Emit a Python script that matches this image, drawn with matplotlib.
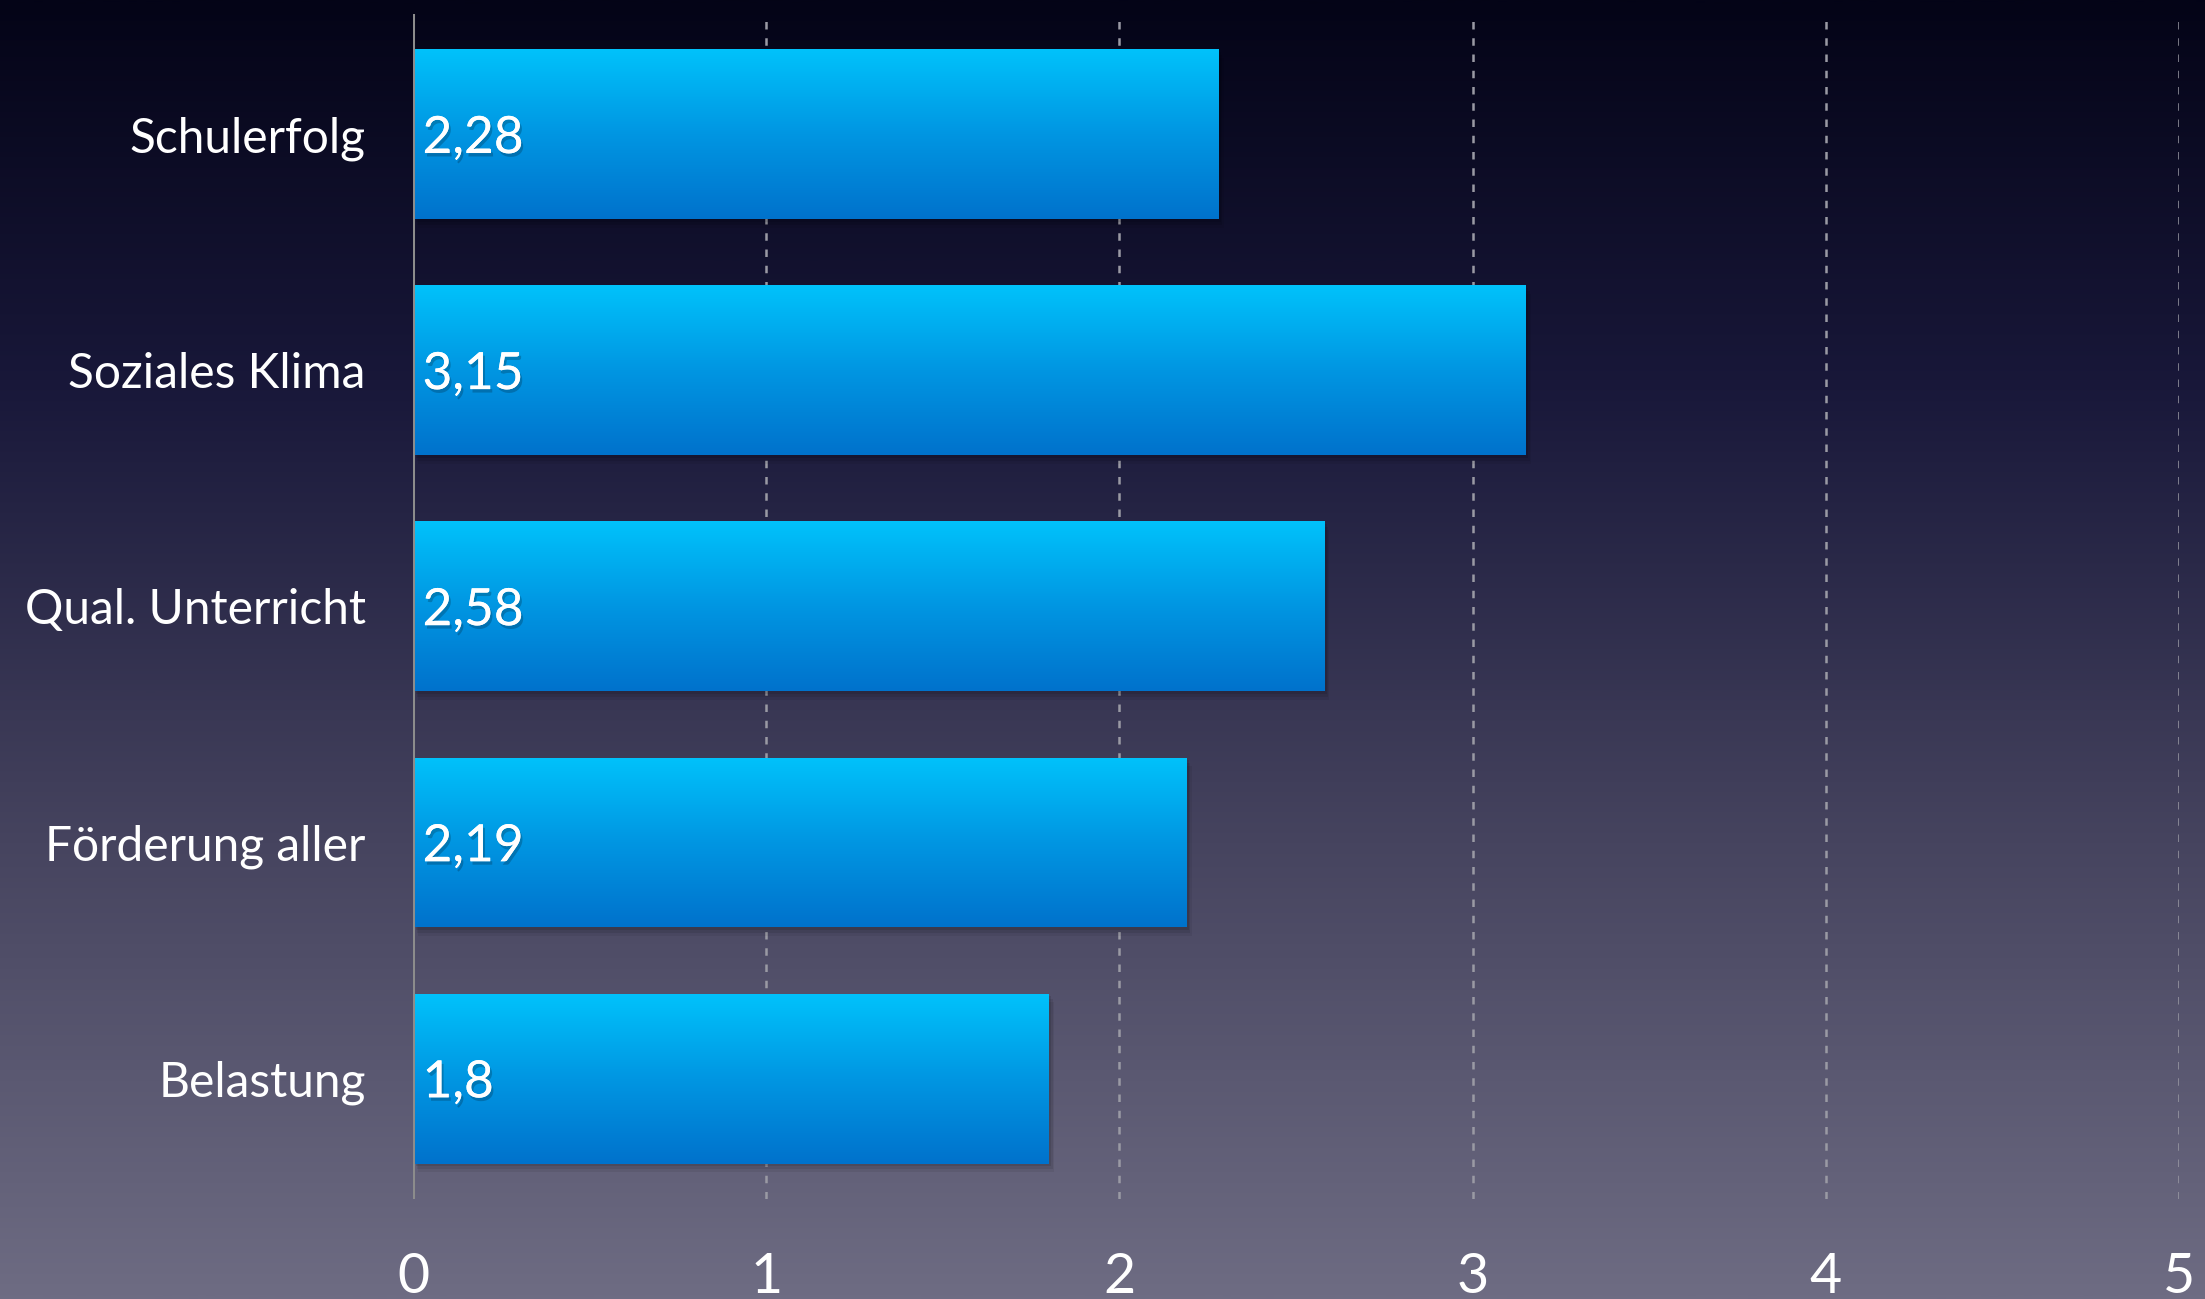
import numpy as np
import matplotlib.pyplot as plt
from matplotlib.colors import LinearSegmentedColormap
import matplotlib.patheffects as pe

categories = ["Schulerfolg", "Soziales Klima", "Qual. Unterricht", "Förderung aller", "Belastung"]
values = [2.28, 3.15, 2.58, 2.19, 1.8]
value_labels = ["2,28", "3,15", "2,58", "2,19", "1,8"]
xticks = [0, 1, 2, 3, 4, 5]

plt.rcParams["font.family"] = ["Lato", "DejaVu Sans"]

fig = plt.figure(figsize=(22.05, 12.99), dpi=100)

# background: dark navy at the top fading to grey-violet at the bottom
bg = fig.add_axes([0, 0, 1, 1], zorder=-10)
bg_cmap = LinearSegmentedColormap.from_list(
    "bg", [(0.0, "#040417"), (0.3, "#19183a"), (0.65, "#46445f"), (1.0, "#6e6c83")])
bg.imshow(np.linspace(0, 1, 512).reshape(-1, 1), aspect="auto", cmap=bg_cmap,
          extent=(0, 1, 0, 1), origin="upper")
bg.set_axis_off()

ax = fig.add_axes([0.1873, 0.077, 0.8009, 0.9123])
ax.patch.set_alpha(0)

bar_cmap = LinearSegmentedColormap.from_list("bar", ["#00c2fb", "#0096e2", "#0072cc"])
grad = np.linspace(0, 1, 256).reshape(-1, 1)
h = 0.72
ypos = np.arange(len(categories))

bars = ax.barh(ypos, values, height=h, color="none", zorder=3)
for rect, y, v, lab in zip(bars, ypos, values, value_labels):
    # soft drop shadow
    for k, a in enumerate([0.10, 0.08, 0.06]):
        d = 0.012 * (k + 1)
        ax.add_patch(plt.Rectangle((0.004 + d * 0.3, y - h / 2 + d), v, h,
                                   color="black", alpha=a, lw=0, zorder=2))
    im = ax.imshow(grad, aspect="auto", cmap=bar_cmap, origin="upper",
                   extent=(0, v, y + h / 2, y - h / 2), zorder=3)
    im.set_clip_path(rect)
    ax.text(0.027, y + 0.02, lab, color="white", fontsize=37, va="center", ha="left", zorder=5,
            path_effects=[pe.withSimplePatchShadow(offset=(1.5, -2.5), shadow_rgbFace="black", alpha=0.2),
                          pe.Normal()])

ax.set_xlim(0, 5)
ax.set_ylim(len(categories) - 0.49, -0.51)
ax.set_xticks(xticks)
ax.set_xticklabels([str(t) for t in xticks])
ax.set_yticks(ypos)
ax.set_yticklabels(categories)
ax.tick_params(axis="x", length=0, pad=38, labelsize=40, labelcolor="white")
ax.tick_params(axis="y", length=0, pad=34, labelsize=34.5, labelcolor="white")

for t in xticks[1:]:
    ax.axvline(t, color="#9a9aa4", lw=1.8, ls=(0, (3, 3.5)), zorder=1)
ax.axvline(0, color="#8c8c8c", lw=2.2, zorder=4)

for s in ax.spines.values():
    s.set_visible(False)

fig.savefig("out.png", dpi=100)
